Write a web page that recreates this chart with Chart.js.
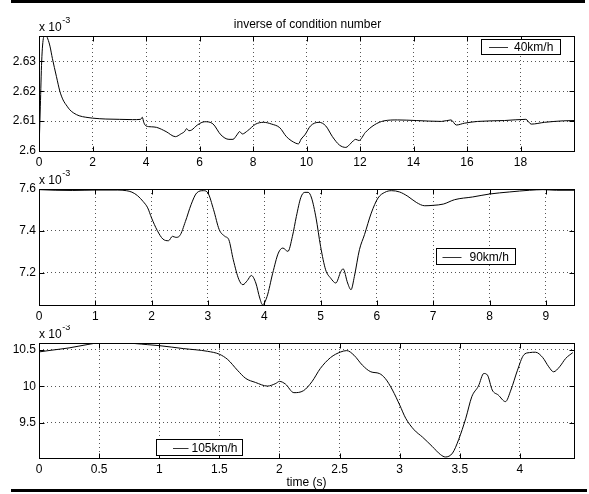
<!DOCTYPE html>
<html>
<head>
<meta charset="utf-8">
<script src="https://cdn.jsdelivr.net/npm/chart.js@4.4.0/dist/chart.umd.min.js"></script>
<style>
  body { margin: 0; background: #fff; }
  #wrap { position: relative; width: 589px; height: 494px; overflow: hidden; background: #fff; }
  canvas { position: absolute; left: 0; }
  .bar { position: absolute; background: #000; }
</style>
</head>
<body>
<div id="wrap">
  <div class="bar" style="left:11px;top:0;width:574px;height:3px"></div>
  <canvas id="c1" width="589" height="170" style="top:0"></canvas>
  <canvas id="c2" width="589" height="155" style="top:170px"></canvas>
  <canvas id="c3" width="589" height="169" style="top:325px"></canvas>
  <div class="bar" style="left:11px;top:489px;width:576px;height:3px"></div>
</div>
<script>
// values are in units of 1e-3 (as on the axes)
const t40 = [0, 0.05, 0.1, 0.17, 0.25, 0.33, 0.41, 0.5, 0.65, 0.78, 0.9, 1.05, 1.15, 1.3, 1.5, 1.75,
  2, 2.5, 3, 3.5, 3.8, 3.86, 3.92, 4, 4.2, 4.4, 4.75, 5.1, 5.3, 5.45, 5.52, 5.6, 5.7, 5.92, 6.2,
  6.5, 6.8, 7.1, 7.25, 7.4, 7.5, 7.6, 7.8, 8.1, 8.4, 8.7, 9, 9.25, 9.6, 9.7, 9.8, 9.94, 10.15,
  10.47, 10.72, 10.97, 11.23, 11.47, 11.66, 11.84, 11.96, 12.2, 12.53, 12.9, 13.4, 14.1, 15.05,
  15.4, 15.6, 15.9, 16.4, 17.4, 18.2, 18.4, 18.9, 19.6, 20];
const v40 = [2.6, 2.615, 2.63, 2.638, 2.639, 2.6375, 2.6351, 2.631, 2.625, 2.62, 2.6171, 2.615,
  2.6138, 2.6127, 2.6118, 2.6113, 2.611, 2.6107, 2.6106, 2.6105, 2.6106, 2.6113, 2.6095, 2.6084,
  2.6081, 2.6079, 2.6065, 2.6048, 2.6057, 2.6066, 2.6075, 2.6068, 2.607, 2.6087, 2.6098, 2.6091,
  2.6054, 2.6039, 2.6039, 2.6054, 2.6065, 2.6057, 2.6068, 2.609, 2.6096, 2.609, 2.6078, 2.6048,
  2.6026, 2.6024, 2.604, 2.6054, 2.6084, 2.6096, 2.6084, 2.6048, 2.602, 2.6012, 2.6026, 2.6039,
  2.6035, 2.6062, 2.6087, 2.6101, 2.6104, 2.6102, 2.6099, 2.6104, 2.6087, 2.6093, 2.6099, 2.6102,
  2.6106, 2.609, 2.6096, 2.6101, 2.6102];

const t90 = [0, 0.3, 0.6, 1, 1.4, 1.55, 1.65, 1.75, 1.85, 1.93, 2, 2.1, 2.2, 2.3, 2.37, 2.43, 2.5,
  2.6, 2.7, 2.8, 2.92, 3, 3.1, 3.2, 3.3, 3.37, 3.45, 3.55, 3.62, 3.7, 3.77, 3.85, 3.92, 3.97, 4.05,
  4.15, 4.25, 4.33, 4.42, 4.5, 4.57, 4.65, 4.72, 4.78, 4.84, 4.92, 5, 5.09, 5.18, 5.27, 5.36, 5.4,
  5.48, 5.54, 5.6, 5.69, 5.78, 5.9, 6.02, 6.14, 6.26, 6.4, 6.55, 6.7, 6.85, 7, 7.18, 7.38, 7.7, 8,
  8.36, 8.71, 8.95, 9.19, 9.5];
const v90 = [7.597, 7.594, 7.593, 7.595, 7.595, 7.592, 7.585, 7.568, 7.54, 7.51, 7.461, 7.402,
  7.361, 7.353, 7.374, 7.369, 7.377, 7.445, 7.525, 7.581, 7.592, 7.581, 7.501, 7.406, 7.374, 7.358,
  7.262, 7.167, 7.143, 7.163, 7.187, 7.151, 7.079, 7.047, 7.087, 7.198, 7.294, 7.318, 7.302, 7.374,
  7.469, 7.56, 7.584, 7.584, 7.557, 7.461, 7.326, 7.214, 7.174, 7.151, 7.206, 7.219, 7.151, 7.119,
  7.182, 7.31, 7.382, 7.485, 7.557, 7.584, 7.592, 7.586, 7.565, 7.536, 7.52, 7.522, 7.528, 7.549,
  7.562, 7.576, 7.586, 7.594, 7.597, 7.594, 7.594];

const t105 = [0, 0.1, 0.25, 0.4, 0.5, 0.7, 0.9, 1, 1.2, 1.4, 1.5, 1.57, 1.65, 1.72, 1.8, 1.9, 1.97,
  2, 2.05, 2.12, 2.2, 2.27, 2.34, 2.425, 2.51, 2.56, 2.62, 2.69, 2.76, 2.83, 2.88, 2.94, 3, 3.05,
  3.12, 3.19, 3.27, 3.34, 3.38, 3.44, 3.49, 3.55, 3.6, 3.655, 3.7, 3.73, 3.77, 3.82, 3.88, 3.925,
  3.98, 4.03, 4.08, 4.13, 4.19, 4.24, 4.28, 4.33, 4.38, 4.44];
const v105 = [10.468, 10.491, 10.523, 10.568, 10.59, 10.59, 10.568, 10.554, 10.514, 10.477, 10.437,
  10.364, 10.219, 10.106, 10.052, 10.002, 10.038, 10.066, 10.029, 9.912, 9.939, 10.061, 10.242,
  10.391, 10.468, 10.486, 10.423, 10.287, 10.197, 10.174, 10.106, 9.948, 9.744, 9.563, 9.405,
  9.305, 9.179, 9.066, 9.034, 9.088, 9.269, 9.563, 9.857, 10.002, 10.174, 10.152, 9.948, 9.88,
  9.79, 9.948, 10.219, 10.423, 10.459, 10.464, 10.391, 10.265, 10.197, 10.265, 10.378, 10.459];

const xTicks1 = [0, 2, 4, 6, 8, 10, 12, 14, 16, 18];
const yTicks1 = [2.6, 2.61, 2.62, 2.63];
const xTicks2 = [0, 1, 2, 3, 4, 5, 6, 7, 8, 9];
const yTicks2 = [7.2, 7.4, 7.6];
const xTicks3 = [0, 0.5, 1, 1.5, 2, 2.5, 3, 3.5, 4];
const yTicks3 = [9.5, 10, 10.5];

const FONT = 'Liberation Sans, Arial, Helvetica, sans-serif';

// matlab-like box: frame, inward ticks, exponent label, legend, title
const matFrame = {
  id: 'matFrame',
  afterDraw(chart, args, opts) {
    const { ctx, chartArea: a, scales: { x, y } } = chart;
    const L = Math.round(a.left) + 0.5, R = Math.round(a.right) + 0.5;
    const T = Math.round(a.top) + 0.5, B = Math.round(a.bottom) + 0.5;
    ctx.save();
    ctx.strokeStyle = '#000';
    ctx.lineWidth = 1;
    ctx.strokeRect(L, T, R - L, B - T);
    ctx.beginPath();
    x.ticks.forEach(tk => {
      const px = Math.round(x.getPixelForValue(tk.value)) + 0.5;
      ctx.moveTo(px, B); ctx.lineTo(px, B - 5);
      ctx.moveTo(px, T); ctx.lineTo(px, T + 5);
    });
    y.ticks.forEach(tk => {
      const py = Math.round(y.getPixelForValue(tk.value)) + 0.5;
      ctx.moveTo(L, py); ctx.lineTo(L + 5, py);
      ctx.moveTo(R, py); ctx.lineTo(R - 5, py);
    });
    ctx.stroke();

    ctx.fillStyle = '#000';
    ctx.textBaseline = 'alphabetic';
    ctx.textAlign = 'left';
    ctx.font = '12px ' + FONT;
    ctx.fillText('x 10', a.left, a.top - 5);
    const w = ctx.measureText('x 10').width;
    ctx.font = '9px ' + FONT;
    ctx.fillText('-3', a.left + w + 0.5, a.top - 13);

    if (opts.title) {
      ctx.font = '12px ' + FONT;
      ctx.textAlign = 'center';
      ctx.fillText(opts.title, (a.left + a.right) / 2 + 1, 28);
    }

    const lg = opts.legend;
    if (lg) {
      ctx.fillStyle = '#fff';
      ctx.fillRect(lg.x, lg.y, lg.w, lg.h);
      ctx.strokeRect(lg.x, lg.y, lg.w, lg.h);
      const cy = Math.round(lg.y + lg.h / 2) + 0.5;
      ctx.strokeStyle = '#333';
      ctx.beginPath();
      ctx.moveTo(lg.x + lg.l0, cy); ctx.lineTo(lg.x + lg.l1, cy);
      ctx.stroke();
      ctx.fillStyle = '#000';
      ctx.font = '12px ' + FONT;
      ctx.textAlign = 'left';
      ctx.textBaseline = 'middle';
      ctx.fillText(chart.data.datasets[0].label, lg.x + lg.tx, cy + 0.5);
    }
    ctx.restore();
  }
};

function makeChart(id, label, t, v, xTicks, yTicks, cfg) {
  const pts = t.map((tv, i) => ({ x: tv, y: v[i] }));
  const tickFont = { family: FONT, size: 12 };
  const grid = { color: '#555', lineWidth: 1, drawTicks: false };
  const border = { display: false, dash: [1, 3] };
  return new Chart(document.getElementById(id), {
    type: 'line',
    data: {
      datasets: [{
        label: label,
        data: pts,
        borderColor: '#000',
        borderWidth: 1,
        pointRadius: 0,
        cubicInterpolationMode: 'monotone',
        fill: false
      }]
    },
    options: {
      responsive: false,
      animation: false,
      events: [],
      layout: { padding: { top: cfg.padTop, right: 15, left: 0, bottom: 0 } },
      plugins: {
        legend: { display: false },
        tooltip: { enabled: false },
        matFrame: { title: cfg.title, legend: cfg.legend }
      },
      scales: {
        x: {
          type: 'linear',
          min: cfg.xMin, max: cfg.xMax,
          afterBuildTicks: s => { s.ticks = xTicks.map(value => ({ value })); },
          afterFit: s => { s.height = cfg.xH; },
          grid: grid,
          border: border,
          ticks: { color: '#000', font: tickFont, padding: 4, maxRotation: 0, autoSkip: false,
            callback: val => String(val) },
          title: cfg.xTitle ? { display: true, text: cfg.xTitle, color: '#000',
            font: tickFont, padding: { top: 0, bottom: 4 } } : { display: false }
        },
        y: {
          type: 'linear',
          min: cfg.yMin, max: cfg.yMax,
          afterBuildTicks: s => { s.ticks = yTicks.map(value => ({ value })); },
          afterFit: s => { s.width = 39; },
          grid: grid,
          border: border,
          ticks: { color: '#000', font: tickFont, padding: 3, autoSkip: false,
            callback: val => String(val) }
        }
      }
    },
    plugins: [matFrame]
  });
}

makeChart('c1', '40km/h', t40, v40, xTicks1, yTicks1, {
  padTop: 36, xH: 19, xMin: 0, xMax: 20, yMin: 2.6, yMax: 2.6385,
  title: 'inverse of condition number',
  legend: { x: 481.5, y: 39.5, w: 79, h: 15, l0: 7.5, l1: 26.5, tx: 32.5 }
});
makeChart('c2', '90km/h', t90, v90, xTicks2, yTicks2, {
  padTop: 19, xH: 20, xMin: 0, xMax: 9.5, yMin: 7.046, yMax: 7.6,
  legend: { x: 436.5, y: 78.5, w: 79, h: 16, l0: 6, l1: 25, tx: 33 }
});
makeChart('c3', '105km/h', t105, v105, xTicks3, yTicks3, {
  padTop: 18, xH: 36, xMin: 0, xMax: 4.45, yMin: 9.02, yMax: 10.59,
  xTitle: 'time (s)',
  legend: { x: 156.5, y: 114.5, w: 86, h: 16, l0: 16.5, l1: 32, tx: 35 }
});
</script>
</body>
</html>
